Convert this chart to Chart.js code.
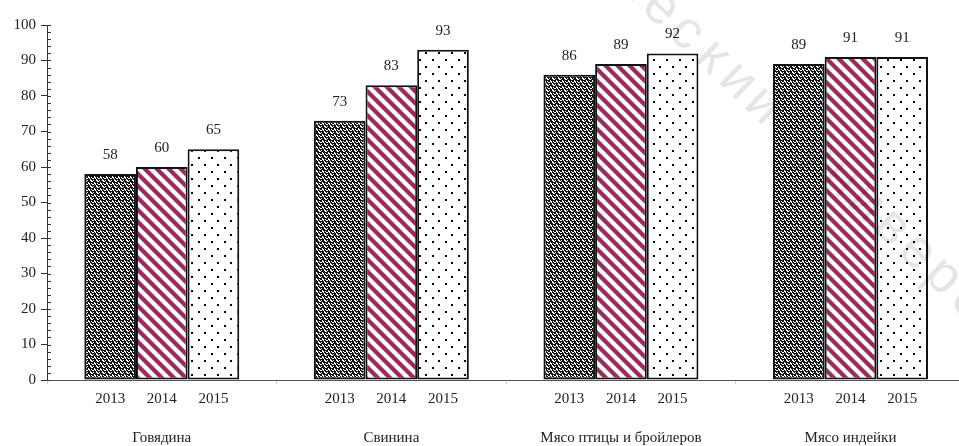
<!DOCTYPE html>
<html>
<head>
<meta charset="utf-8">
<script src="https://cdn.jsdelivr.net/npm/chart.js@4/dist/chart.umd.min.js"></script>
<style>
  html, body { margin: 0; padding: 0; background: #fff; overflow: hidden; }
  #wrap { width: 968px; height: 446px; }
</style>
</head>
<body>
<div id="wrap"><canvas id="myChart"></canvas></div>
<script>
const categories = ['Говядина', 'Свинина', 'Мясо птицы и бройлеров', 'Мясо индейки'];
const years = ['2013', '2014', '2015'];
const values2013 = [58, 73, 86, 89];
const values2014 = [60, 83, 89, 91];
const values2015 = [65, 93, 92, 91];
const yMax = 100;
const yStep = 10;
const yMinorStep = 2;

// fill patterns
function makeTile(w, h, draw) {
    const c = document.createElement('canvas');
    c.width = w; c.height = h;
    const t = c.getContext('2d');
    draw(t, w, h);
    return c;
}

const tmp = document.createElement('canvas').getContext('2d');

// black with broken white squiggles ('w' = white pixel)
const darkRows = [
    'ww.w..',
    '.ww...',
    '....w.',
    '.w..ww',
    '..ww.w',
    'w.....'
];
const darkPattern = tmp.createPattern(makeTile(6, 6, (t, w, h) => {
    t.fillStyle = '#111';
    t.fillRect(0, 0, w, h);
    t.fillStyle = '#fff';
    darkRows.forEach((row, py) => {
        [...row].forEach((ch, px) => { if (ch === 'w') t.fillRect(px, py, 1, 1); });
    });
}), 'repeat');

const stripePattern = tmp.createPattern(makeTile(12, 12, (t, w, h) => {
    t.fillStyle = '#fff';
    t.fillRect(0, 0, w, h);
    t.strokeStyle = '#9e2a5c';
    t.lineWidth = 4.2;
    for (let k = -1; k <= 1; k++) {
        t.beginPath();
        t.moveTo(k * w - 2, -2);
        t.lineTo(k * w + w + 2, h + 2);
        t.stroke();
    }
}), 'repeat');

const dotPattern = tmp.createPattern(makeTile(13, 14, (t, w, h) => {
    t.fillStyle = '#fff';
    t.fillRect(0, 0, w, h);
    t.fillStyle = '#000';
    t.fillRect(3, 3, 2, 2);
    t.fillRect(9, 10, 2, 2);
}), 'repeat');

const fills = [darkPattern, stripePattern, dotPattern];

const labelPlugin = {
    id: 'barLabels',
    afterDatasetsDraw(chart) {
        const ctx = chart.ctx;
        const xScale = chart.scales.x;
        ctx.save();
        ctx.font = '15px "Liberation Serif", serif';
        ctx.fillStyle = '#222';
        ctx.textAlign = 'center';
        ctx.textBaseline = 'middle';
        chart.data.datasets.forEach((ds, i) => {
            chart.getDatasetMeta(i).data.forEach((bar, j) => {
                ctx.fillText(String(ds.data[j]), bar.x, bar.y - 19);
                ctx.fillText(ds.label, bar.x, xScale.top + 19);
            });
        });
        ctx.restore();
    },
    afterDraw(chart) {
        const ctx = chart.ctx;
        const y = chart.scales.y;
        const x0 = chart.chartArea.left;
        ctx.save();
        ctx.strokeStyle = '#333';
        ctx.lineWidth = 1;
        ctx.beginPath();
        for (let v = 0; v <= yMax; v += yMinorStep) {
            const py = Math.round(y.getPixelForValue(v)) + 0.5;
            ctx.moveTo(x0, py);
            ctx.lineTo(x0 + 4, py);
        }
        ctx.stroke();

        // faint watermark running diagonally across the top right
        const mark = 'ческий университет';
        const ang = 43.6 * Math.PI / 180;
        ctx.font = '54px "Liberation Sans", sans-serif';
        ctx.fillStyle = 'rgba(0,0,0,0.1)';
        ctx.textAlign = 'center';
        ctx.textBaseline = 'middle';
        for (let k = 0; k < mark.length; k++) {
            const d = (k - 1) * 35.4;
            ctx.save();
            ctx.translate(661 + d * Math.cos(ang), 8 + d * Math.sin(ang));
            ctx.rotate(ang);
            ctx.fillText(mark[k], 0, 0);
            ctx.restore();
        }
        ctx.restore();
    }
};

Chart.defaults.font.family = '"Liberation Serif", "Times New Roman", serif';
Chart.defaults.font.size = 15;
Chart.defaults.color = '#222';

const ctx = document.getElementById('myChart').getContext('2d');

new Chart(ctx, {
    type: 'bar',
    data: {
        labels: categories,
        datasets: [values2013, values2014, values2015].map((vals, i) => ({
            label: years[i],
            data: vals,
            backgroundColor: fills[i],
            borderColor: '#111',
            borderWidth: 2,
            borderSkipped: false,
            barPercentage: 1,
            categoryPercentage: 0.675
        }))
    },
    options: {
        responsive: true,
        maintainAspectRatio: false,
        animation: false,
        devicePixelRatio: 1,
        layout: { padding: { top: 25, right: 2.7, left: 0, bottom: 0 } },
        plugins: {
            legend: { display: false },
            tooltip: { enabled: false }
        },
        scales: {
            x: {
                afterFit: (scale) => { scale.height = 66; },
                border: { display: true, color: '#555', width: 1 },
                grid: {
                    drawOnChartArea: false,
                    drawTicks: true,
                    tickLength: 4,
                    color: '#ccc'
                },
                ticks: { padding: 45, maxRotation: 0, autoSkip: false }
            },
            y: {
                min: 0,
                max: yMax,
                afterFit: (scale) => { scale.width = 47; },
                border: { display: true, color: '#333', width: 1 },
                grid: {
                    drawOnChartArea: false,
                    drawTicks: true,
                    tickLength: 6,
                    color: '#333'
                },
                ticks: { stepSize: yStep, padding: 5 }
            }
        }
    },
    plugins: [labelPlugin]
});
</script>
</body>
</html>
